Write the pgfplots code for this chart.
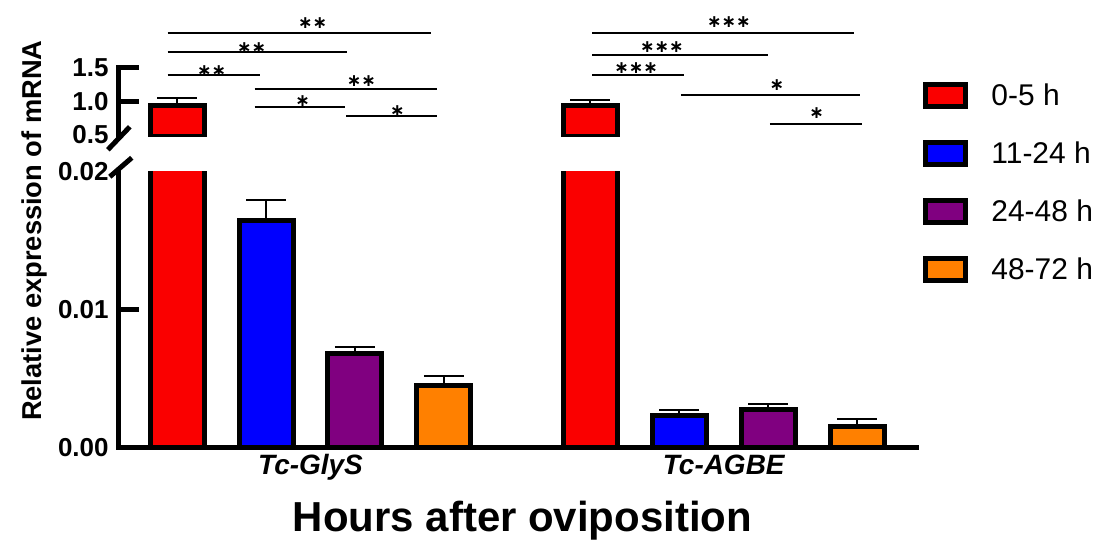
\documentclass[border=0pt]{standalone}
\usepackage{fontspec}
\setmainfont{Liberation Sans}
\newfontfamily\djv{DejaVu Sans}
\usepackage{pgfplots}
\usepackage{pgfplotstable}
\pgfplotsset{compat=1.18}

\definecolor{cRed}{RGB}{250,0,0}
\definecolor{cBlue}{RGB}{0,0,255}
\definecolor{cPurple}{RGB}{128,0,128}
\definecolor{cOrange}{RGB}{255,128,0}

% x: category position, y: mean, e: error (upper)
\pgfplotstableread{
x y e
0 0.933 0.12
4.65 0.933 0.09
}\redtab
\pgfplotstableread{
x y e
1 0.01645 0.00147
5.65 0.00232 0.00036
}\bluetab
\pgfplotstableread{
x y e
2 0.00681 0.00044
6.65 0.00275 0.00037
}\purpletab
\pgfplotstableread{
x y e
3 0.00449 0.00065
7.65 0.00152 0.00051
}\orangetab

\pgfplotsset{
  brk/.style={
    scale only axis, width=599.25pt, xmin=-0.657, xmax=8.32,
    axis y line*=left,
    axis line style={line width=3.75pt, line cap=rect},
    tick align=inside, major tick length=15pt,
    ytick style={black, line width=3.75pt},
    scaled y ticks=false,
    /pgf/number format/assume math mode=true,
    yticklabel style={font=\fontsize{19.5}{19.5}\selectfont\bfseries, inner sep=0pt, xshift=-7.5pt},
    extra y tick style={major tick length=0pt},
    bar width=40.5pt,
    clip=true,
  },
  bstyle/.style={ybar, draw=black, line width=3.75pt, fill=#1,
    error bars/y dir=plus, error bars/y explicit,
    error bars/error bar style={line width=1.5pt, black},
    error bars/error mark options={rotate=90, line width=1.5pt, black, mark size=15pt}},
}

\begin{document}
\begin{tikzpicture}
\begin{scope}[x=0.75pt, y=-0.75pt]
  \path[use as bounding box] (0,0) rectangle (1093,535);
\end{scope}

% lower part of the broken axis
\begin{axis}[brk,
  at={(89.25pt,-336pt)}, anchor=south west,
  height=207pt, ymin=0, ymax=0.02,
  axis x line*=bottom,
  ytick={0.01}, yticklabels={0.01},
  extra y ticks={0,0.02}, extra y tick labels={0.00,0.02},
  xtick={1.5,6.15}, xticklabels={Tc-GlyS,Tc-AGBE},
  xtick style={draw=none},
  xticklabel style={font=\fontsize{21}{21}\selectfont\bfseries\itshape, anchor=base, yshift=-20.25pt},
  xlabel={Hours after oviposition},
  xlabel style={at={(axis description cs:0.506,0)}, anchor=base, yshift=-63pt, font=\fontsize{31.5}{31.5}\selectfont\bfseries},
  legend image code/.code={\draw[#1, draw=black, line width=3.75pt] (0pt,-8.25pt) rectangle (30pt,8.25pt);},
  legend style={at={(1.0081,1.3243)}, anchor=north west, draw=none, fill=none,
    inner sep=0pt, outer sep=0pt, row sep=23.25pt,
    font=\fontsize{22.5}{22.5}\selectfont,
    nodes={anchor=west, inner sep=0pt},
    /tikz/every odd column/.style={column sep=17.6pt}},
]
\addplot[bstyle=cRed] table[x=x, y=y, y error=e]{\redtab};
\addlegendentry{0-5 h}
\addplot[bstyle=cBlue] table[x=x, y=y, y error=e]{\bluetab};
\addlegendentry{11-24 h}
\addplot[bstyle=cPurple] table[x=x, y=y, y error=e]{\purpletab};
\addlegendentry{24-48 h}
\addplot[bstyle=cOrange] table[x=x, y=y, y error=e]{\orangetab};
\addlegendentry{48-72 h}
\end{axis}

% upper part of the broken axis (only the 0-5 h bars reach it)
\begin{axis}[brk,
  at={(89.25pt,-102.75pt)}, anchor=south west,
  height=51.75pt, ymin=0.47, ymax=1.5,
  axis x line=none, xtick=\empty,
  ytick={1,1.5}, yticklabels={1.0,1.5},
  extra y ticks={0.5}, extra y tick labels={0.5},
]
\addplot[bstyle=cRed] table[x=x, y=y, y error=e]{\redtab};
\end{axis}

\begin{scope}[x=0.75pt, y=-0.75pt]
  % axis break marks
  \draw[line width=3.75pt] (108,150) -- (130,127);
  \draw[line width=3.75pt] (110,177) -- (132,158);
  % y label
  \node[rotate=90, anchor=base, font=\fontsize{20.5}{20.5}\selectfont\bfseries] at (42,231) {Relative expression of mRNA};
  % significance brackets
  \begin{scope}[line width=1.5pt]
    \tikzset{st/.style={inner sep=0pt, font=\djv\bfseries\fontsize{13}{13}\selectfont}}
    \draw (168,33) -- (432,33); \node[st] at (313,23) {∗∗};
    \draw (168,52) -- (348,52); \node[st] at (252,48) {∗∗};
    \draw (168,75) -- (260,75); \node[st] at (212,71) {∗∗};
    \draw (255,89) -- (438,89); \node[st] at (362,81) {∗∗};
    \draw (255,107) -- (346,107); \node[st] at (303,101) {∗};
    \draw (347,116) -- (438,116); \node[st] at (398,111) {∗};
    \draw (593,33) -- (855,33); \node[st] at (730,22) {∗∗∗};
    \draw (593,55) -- (769,55); \node[st] at (663,47) {∗∗∗};
    \draw (593,75) -- (685,75); \node[st] at (637,68) {∗∗∗};
    \draw (682,95) -- (861,95); \node[st] at (778,85) {∗};
    \draw (771,124) -- (863,124); \node[st] at (818,113) {∗};
  \end{scope}
\end{scope}
\end{tikzpicture}
\end{document}
